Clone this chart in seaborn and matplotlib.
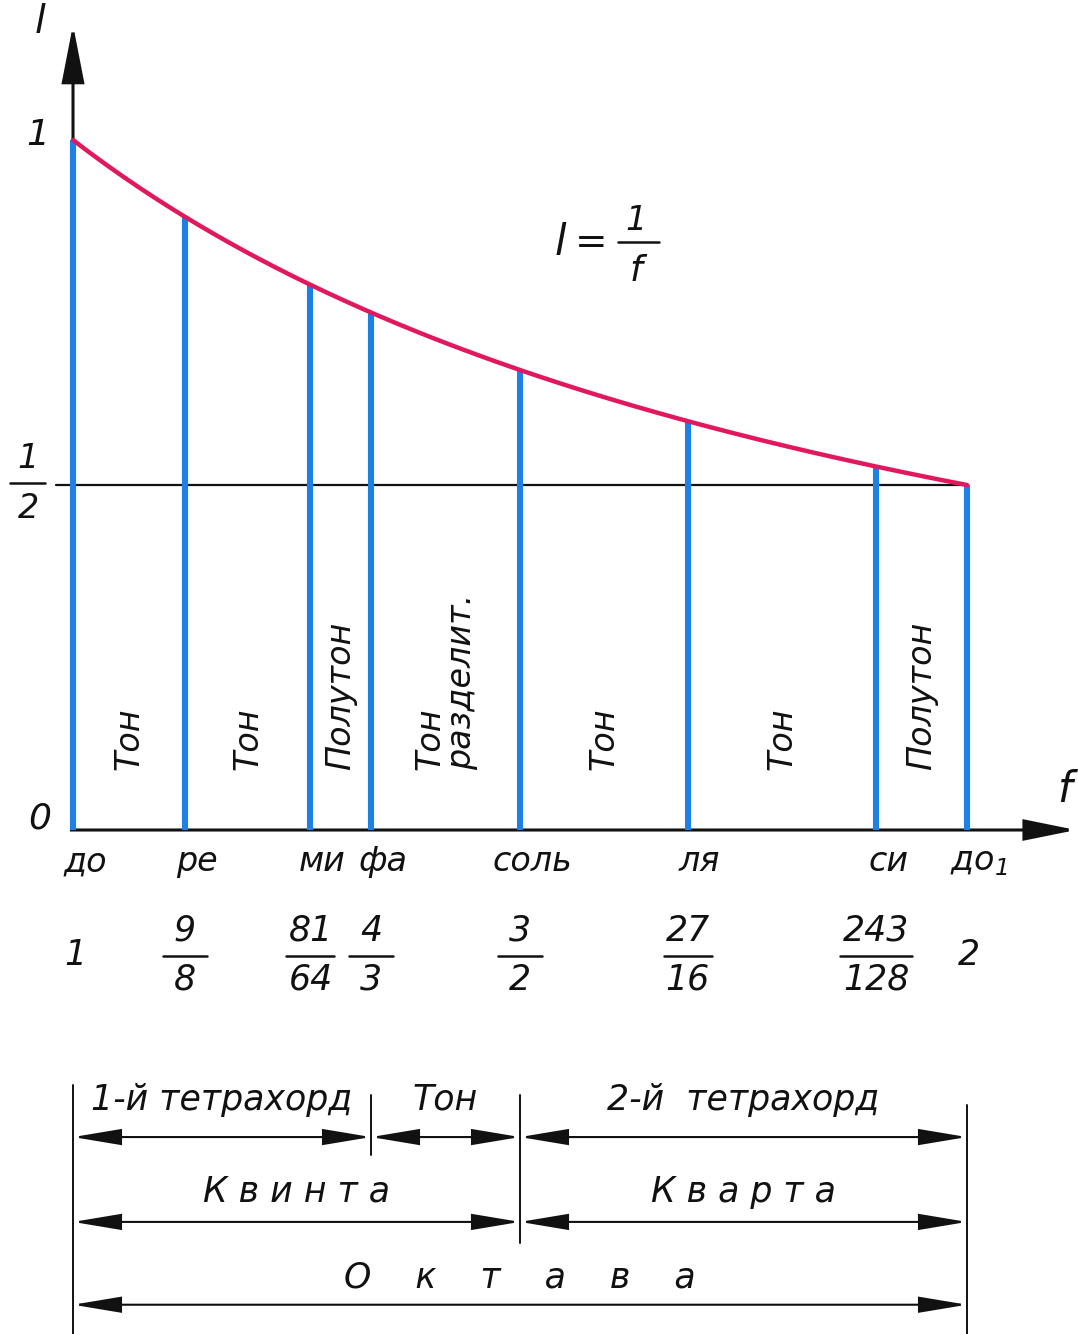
import numpy as np
import matplotlib
matplotlib.use("Agg")
import matplotlib.pyplot as plt
from matplotlib.patches import FancyArrowPatch
import seaborn as sns

# Pythagorean scale: note names and frequency ratios (numerator / denominator)
notes = ["до", "ре", "ми", "фа", "соль", "ля", "си", "до$_{\\mathit{1}}$"]
ratio_num = [1, 9, 81, 4, 3, 27, 243, 2]
ratio_den = [1, 8, 64, 3, 2, 16, 128, 1]
intervals = ["Тон", "Тон", "Полутон", "Тон\nразделит.", "Тон", "Тон", "Полутон"]

# Dimension rows below the axis: (start note index, end note index, label)
row1 = [(0, 3, "1-й тетрахорд"), (3, 4, "Тон"), (4, 7, "2-й  тетрахорд")]
row2 = [(0, 4, "К в и н т а"), (4, 7, "К в а р т а")]
row3 = [(0, 7, "О    к    т    а    в    а")]

sns.set_theme(style="white")
plt.rcParams["font.family"] = ["DejaVu Sans"]
plt.rcParams["font.style"] = "italic"
plt.rcParams["mathtext.fontset"] = "dejavusans"

BLUE = "#1d80e6"
RED = "#e2185e"
INK = "#111111"

freq = np.array(ratio_num) / np.array(ratio_den)
length = 1.0 / freq

fig = plt.figure(figsize=(10.78, 13.34), dpi=100)
ax = fig.add_axes([0, 0, 1, 1])
ax.set_xlim(0.91834, 2.12416)
ax.set_ylim(-0.73043, 1.20290)
ax.axis("off")
PX = 1.0 / 894.0  # one pixel in units of f


def arrow(p0, p1, hl, hw, lw, style="-|>", z=3):
    a = FancyArrowPatch(p0, p1, arrowstyle=f"{style},head_length={hl},head_width={hw}",
                        mutation_scale=1, color=INK, lw=lw, shrinkA=0, shrinkB=0,
                        joinstyle="miter", capstyle="butt", zorder=z)
    ax.add_patch(a)


# axes with arrows
arrow((0.9966, 0.0), (2.122, 0.0), 32, 6.5, 2.2)
arrow((1.0, 0.0), (1.0, 1.167), 36, 7, 2.2)

# level l = 1/2
ax.plot([0.9805, 2.0], [0.5, 0.5], color=INK, lw=1.6, zorder=2)

# string lengths for each note
ax.vlines(freq, 0, length, color=BLUE, lw=4.4, zorder=4)

# hyperbola l = 1/f
f_curve = np.linspace(1.0, 2.0, 300)
sns.lineplot(x=f_curve, y=1.0 / f_curve, color=RED, lw=3.2, ax=ax, zorder=5)

# axis labels and ticks
txt = dict(color=INK, style="italic", ha="center", va="center")
ax.text(0.963, 1.171, "l", fontsize=28, **txt)
ax.text(2.1096, 0.058, "f", fontsize=30, **txt)
ax.text(0.961, 1.007, "1", fontsize=26, **txt)
ax.text(0.963, 0.017, "0", fontsize=26, **txt)
ax.text(0.9497, 0.538, "1", fontsize=24, **txt)
ax.plot([0.9295, 0.9687], [0.503, 0.503], color=INK, lw=1.8)
ax.text(0.9497, 0.466, "2", fontsize=24, **txt)

# formula l = 1/f
ax.text(1.5447, 0.851, "l", fontsize=30, **txt)
ax.text(1.580, 0.851, "=", fontsize=28, **txt)
ax.text(1.630, 0.883, "1", fontsize=24, **txt)
ax.plot([1.6095, 1.655], [0.852, 0.852], color=INK, lw=1.8)
ax.text(1.630, 0.810, "f", fontsize=26, **txt)

# interval names, written vertically between neighbouring strings
for i, name in enumerate(intervals):
    xm = 0.5 * (freq[i] + freq[i + 1])
    ax.text(xm, 0.087, name, rotation=90, fontsize=24, color=INK, style="italic",
            ha="center", va="bottom", multialignment="left", linespacing=0.95)

# note names and frequency ratios
bar_half = {1: 22, 2: 24, 3: 36}
for f, name, n, d in zip(freq, notes, ratio_num, ratio_den):
    ax.text(f + 12 * PX, -0.046, name, fontsize=24, **txt)
    if d == 1:
        ax.text(f + 2 * PX, -0.181, str(n), fontsize=25, **txt)
    else:
        ax.text(f, -0.146, str(n), fontsize=25, **txt)
        ax.text(f, -0.217, str(d), fontsize=25, **txt)
        w = bar_half[len(str(max(n, d)))] * PX
        ax.plot([f - w, f + w], [-0.183, -0.183], color=INK, lw=1.8)

# dimension lines: interval spans of the octave
ext = {0: (-0.370, -0.730), 3: (-0.384, -0.471), 4: (-0.384, -0.599), 7: (-0.399, -0.730)}
for k, (y0, y1) in ext.items():
    ax.plot([freq[k], freq[k]], [y0, y1], color=INK, lw=1.4)

for rows, yl, yt in [(row1, -0.445, -0.391), (row2, -0.568, -0.524), (row3, -0.688, -0.648)]:
    for a, b, label in rows:
        arrow((freq[a], yl), (freq[b], yl), 30, 5, 1.5, style="<|-|>")
        ax.text(0.5 * (freq[a] + freq[b]), yt, label, fontsize=25, **txt)

fig.savefig("out.png", dpi=100, facecolor="white")
